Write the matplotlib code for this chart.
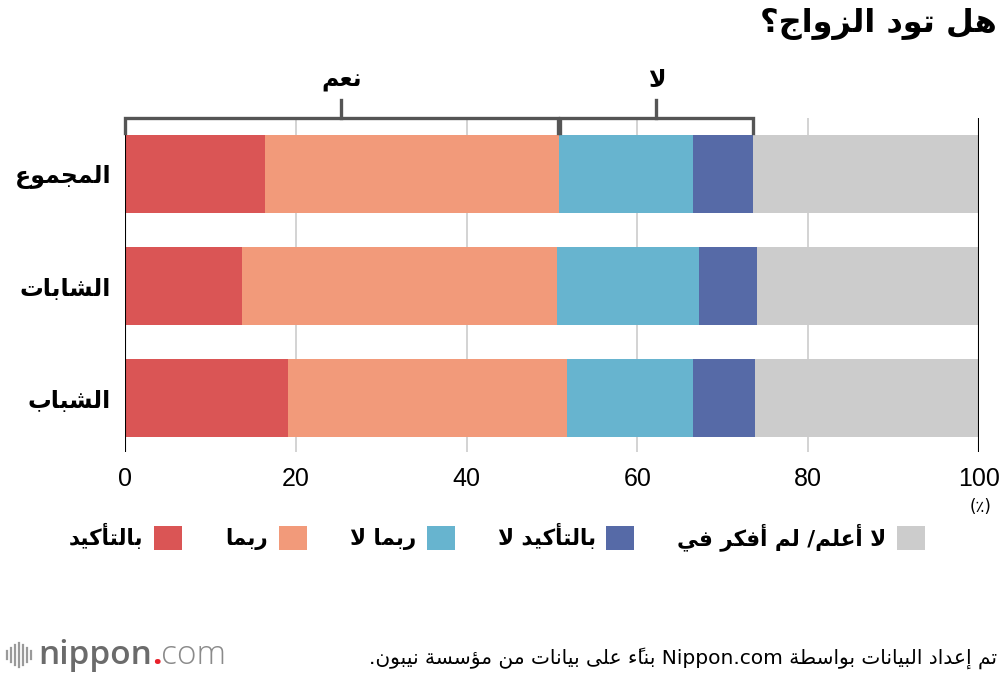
import re

import matplotlib
import matplotlib.pyplot as plt
from matplotlib.lines import Line2D
from matplotlib.transforms import blended_transform_factory

matplotlib.use("Agg")

# --- data -----------------------------------------------------------------
categories = ["المجموع", "الشابات", "الشباب"]
answers = ["بالتأكيد", "ربما", "ربما لا", "بالتأكيد لا", "لا أعلم/ لم أفكر في"]
colors = ["#da5555", "#f29a7a", "#67b4cf", "#566aa7", "#cccccc"]
definitely = [16.4, 13.7, 19.1]
maybe = [34.4, 36.9, 32.7]
maybe_not = [15.7, 16.6, 14.7]
definitely_not = [7.0, 6.8, 7.3]
dont_know = [26.5, 26.0, 26.2]
x_ticks = [0, 20, 40, 60, 80, 100]

title = "هل تود الزواج؟"
yes_label = "نعم"
no_label = "لا"
unit_label = "(٪)"
source = "تم إعداد البيانات بواسطة Nippon.com بناءً على بيانات من مؤسسة نيبون."

# --- minimal arabic shaping (matplotlib has no complex text layout) -------
DUAL = {"ب": 0xFE8F, "ت": 0xFE95, "ث": 0xFE99, "ج": 0xFE9D, "ح": 0xFEA1,
        "خ": 0xFEA5, "س": 0xFEB1, "ش": 0xFEB5, "ص": 0xFEB9, "ض": 0xFEBD,
        "ط": 0xFEC1, "ظ": 0xFEC5, "ع": 0xFEC9, "غ": 0xFECD, "ف": 0xFED1,
        "ق": 0xFED5, "ك": 0xFED9, "ل": 0xFEDD, "م": 0xFEE1, "ن": 0xFEE5,
        "ه": 0xFEE9, "ي": 0xFEF1, "ئ": 0xFE89}
RIGHT = {"آ": 0xFE81, "أ": 0xFE83, "ؤ": 0xFE85, "إ": 0xFE87, "ا": 0xFE8D,
         "ة": 0xFE93, "د": 0xFEA9, "ذ": 0xFEAB, "ر": 0xFEAD, "ز": 0xFEAF,
         "و": 0xFEED, "ى": 0xFEEF}
LAM_ALEF = {"آ": 0xFEF5, "أ": 0xFEF7, "إ": 0xFEF9, "ا": 0xFEFB}
HARAKAT = "\u064b\u064c\u064d\u064e\u064f\u0650\u0651\u0652"
MIRROR = {"(": ")", ")": "("}


def ar(text):
    glyphs = []
    i = 0
    while i < len(text):
        c = text[i]
        if c == "ل" and i + 1 < len(text) and text[i + 1] in LAM_ALEF:
            glyphs.append([LAM_ALEF[text[i + 1]], "R", ""])
            i += 2
            continue
        if c in HARAKAT and glyphs:
            glyphs[-1][2] += c
        elif c in DUAL:
            glyphs.append([DUAL[c], "D", ""])
        elif c in RIGHT:
            glyphs.append([RIGHT[c], "R", ""])
        elif c == "ء":
            glyphs.append([0xFE80, "U", ""])
        else:
            glyphs.append([c, "U", ""])
        i += 1

    out = []
    for k, (g, kind, marks) in enumerate(glyphs):
        if isinstance(g, int):
            form = 0
            if kind != "U":
                prev_j = k > 0 and glyphs[k - 1][1] == "D"
                next_j = kind == "D" and k + 1 < len(glyphs) and glyphs[k + 1][1] in "DR"
                form = {(False, False): 0, (True, False): 1,
                        (False, True): 2, (True, True): 3}[(prev_j, next_j)]
            ch = chr(g + form)
        else:
            ch = MIRROR.get(g, g)
        out.append(ch + marks)
    vis = "".join(reversed(out))
    # latin runs keep their own direction
    return re.sub(r"[A-Za-z0-9][A-Za-z0-9.]*[A-Za-z0-9]", lambda m: m.group(0)[::-1], vis)


AR_FONT = "DejaVu Sans"
NUM_FONT = ["Liberation Sans Narrow", "Liberation Sans"]

# --- figure ---------------------------------------------------------------
fig = plt.figure(figsize=(10, 6.76), dpi=100)
ax = fig.add_axes([0.125, 1 - 452 / 676, 0.854, 334 / 676])

series = [definitely, maybe, maybe_not, definitely_not, dont_know]
y = list(range(len(categories)))
left = [0.0] * len(categories)
for name, vals, col in zip(answers, series, colors):
    ax.barh(y, vals, left=left, height=0.7, color=col, label=ar(name), zorder=3)
    left = [l + v for l, v in zip(left, vals)]

ax.set_ylim(2.482, -0.5)
ax.set_xlim(0, 100)
for s in ax.spines.values():
    s.set_visible(False)

for t in x_ticks:
    edge = t in (0, 100)
    ax.axvline(t, color="black" if edge else "#cccccc", lw=1.5 if edge else 1.2, zorder=1 if not edge else 4)

ax.set_xticks(x_ticks)
ax.set_xticklabels([str(t) for t in x_ticks], fontfamily=NUM_FONT, fontsize=18)
ax.tick_params(axis="x", length=0, pad=11)
ax.set_yticks(y)
ax.set_yticklabels([ar(c) for c in categories], fontfamily=AR_FONT, fontweight="bold", fontsize=17)
ax.tick_params(axis="y", length=0, pad=10)

ax.text(101.5, -0.165, ar(unit_label), transform=blended_transform_factory(ax.transData, ax.transAxes),
        ha="right", va="center", fontsize=12, fontfamily=AR_FONT)

# --- yes / no brackets ----------------------------------------------------
tr = blended_transform_factory(ax.transData, fig.transFigure)
yes_end = definitely[0] + maybe[0]
no_end = yes_end + maybe_not[0] + definitely_not[0]
y_line, y_tick, y_mid, y_lab = 1 - 118 / 676, 1 - 133 / 676, 1 - 100 / 676, 1 - 80 / 676
for x0, x1, lab in [(0, yes_end - 0.15, yes_label), (yes_end + 0.15, no_end, no_label)]:
    ax.plot([x0, x0, x1, x1], [y_tick, y_line, y_line, y_tick], color="#555555", lw=2.4,
            transform=tr, clip_on=False, solid_joinstyle="miter", zorder=5)
    xm = (x0 + x1) / 2
    ax.plot([xm, xm], [y_line, y_mid], color="#555555", lw=2.4, transform=tr, clip_on=False)
    ax.text(xm, y_lab, ar(lab), transform=tr, ha="center", va="center",
            fontsize=17, fontweight="bold", fontfamily=AR_FONT)

# --- title ----------------------------------------------------------------
fig.text(0.997, 1 - 24 / 676, ar(title), ha="right", va="center", fontsize=23,
         fontweight="bold", fontfamily=AR_FONT)

# --- legend ---------------------------------------------------------------
ax.legend(loc="center", bbox_to_anchor=(0.497, 1 - 537 / 676), bbox_transform=fig.transFigure,
          ncol=5, markerfirst=False, frameon=False, handlelength=1.3, handleheight=1.3,
          handletextpad=0.5, columnspacing=2.0,
          prop={"family": AR_FONT, "weight": "bold", "size": 15.5})

# --- footer ---------------------------------------------------------------
fig.text(0.997, 1 - 658 / 676, ar(source), ha="right", va="center", fontsize=14.5,
         fontfamily=AR_FONT)

logo_y = 1 - 655 / 676
t1 = fig.text(0.038, logo_y, "nippon", ha="left", va="center", fontsize=24,
              fontweight="semibold", color="#6b6b6b", fontfamily="Open Sans")
fig.canvas.draw()
bb = t1.get_window_extent()
t2 = fig.text(bb.x1 / 1000, logo_y, ".", ha="left", va="center", fontsize=24,
              fontweight="bold", color="#e8202a", fontfamily="Open Sans")
bb2 = t2.get_window_extent()
fig.text(bb2.x1 / 1000, logo_y, "com", ha="left", va="center", fontsize=24,
         fontweight="light", color="#8a8a8a", fontfamily="Open Sans")
for px, h in zip([7, 11, 15, 19, 23, 27, 31], [8, 14, 20, 24, 20, 14, 8]):
    fig.add_artist(Line2D([px / 1000, px / 1000], [(676 - 655 - h / 2) / 676, (676 - 655 + h / 2) / 676],
                          color="#9a9a9a", lw=1.6))

fig.savefig("out.png", dpi=100)
